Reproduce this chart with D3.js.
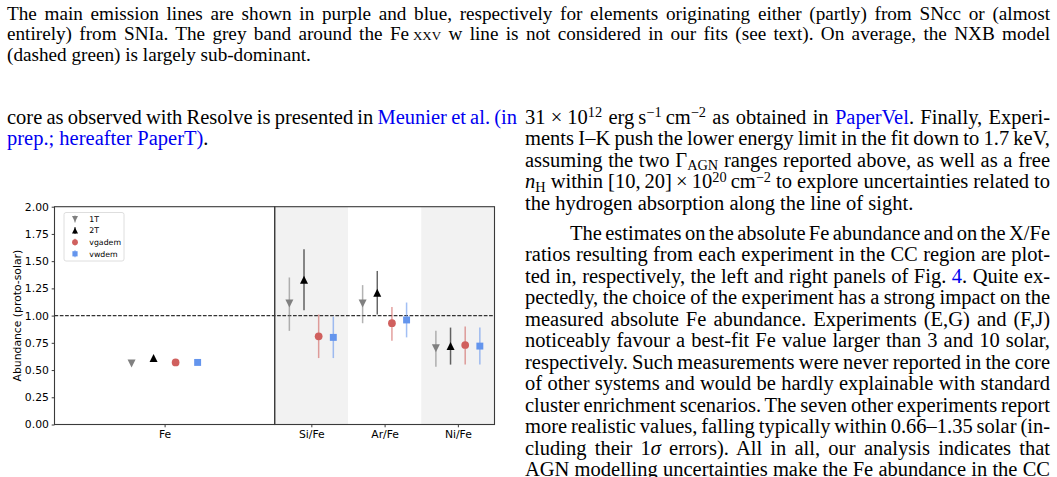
<!DOCTYPE html>
<html>
<head>
<meta charset="utf-8">
<script src="https://cdn.jsdelivr.net/npm/d3@7"></script>
<style>
	body { margin: 0; background: #fff; }
	#page { position: relative; width: 1057px; height: 477px; overflow: hidden;
		font-family: 'Liberation Serif', 'Times New Roman', serif; color: #000; }
	.line { position: absolute; white-space: nowrap; }
	.line .in { display: inline-block; white-space: nowrap; }
	.lnk { color: #0000f0; }
	sup, sub { font-size: 0.7em; position: relative; vertical-align: baseline; line-height: 0; }
	sup { top: -0.45em; }
	sub { top: 0.25em; }
	.sc { font-variant: small-caps; }
	#chart { position: absolute; left: 0; top: 0; }
</style>
</head>
<body>
<div id="page">
	<svg id="chart" width="1057" height="477"></svg>
</div>
<script>
// ---- data ----
const models = ['1T', '2T', 'vgadem', 'vwdem'];
const modelColors = ['#808080', '#000000', '#d0605e', '#6495ed'];
const modelShapes = ['down', 'up', 'circle', 'square'];

const feLabels = ['Fe'];
const feValues = [0.56, 0.61, 0.57, 0.57];
const feErrors = [0.01, 0.01, 0.01, 0.01];

const ratioLabels = ['Si/Fe', 'Ar/Fe', 'Ni/Fe'];
// one row per model, one column per ratio
const ratioValues = [
	[1.11, 1.11, 0.70],
	[1.33, 1.21, 0.72],
	[0.81, 0.93, 0.73],
	[0.80, 0.96, 0.72]
];
const ratioErrLow = [
	[0.25, 0.18, 0.17],
	[0.28, 0.20, 0.17],
	[0.20, 0.16, 0.18],
	[0.19, 0.16, 0.17]
];
const ratioErrHigh = [
	[0.24, 0.17, 0.16],
	[0.28, 0.20, 0.17],
	[0.20, 0.15, 0.17],
	[0.19, 0.16, 0.17]
];
const yTicks = [0, 0.25, 0.5, 0.75, 1, 1.25, 1.5, 1.75, 2];
const referenceLevel = 1;

// ---- surrounding page text ----
const captionLines = [
	'The main emission lines are shown in purple and blue, respectively for elements originating either (partly) from SNcc or (almost',
	'entirely) from SNIa. The grey band around the Fe\u2009<span class="sc">xxv</span> w line is not considered in our fits (see text). On average, the NXB model',
	'(dashed green) is largely sub-dominant.'
];
const leftLines = [
	'core as observed with Resolve is presented in <span class="lnk">Meunier et al. (in</span>',
	'<span class="lnk">prep.; hereafter PaperT)</span>.'
];
const rightLinesA = [
	'31\u2005×\u200510<sup>12</sup> erg\u2009s<sup>\u22121</sup>\u2009cm<sup>\u22122</sup> as obtained in <span class="lnk">PaperVel</span>. Finally, Experi-',
	'ments I–K push the lower energy limit in the fit down to 1.7\u2009keV,',
	'assuming the two Γ<sub>AGN</sub> ranges reported above, as well as a free',
	'<i>n</i><sub>H</sub> within [10,\u200920]\u2009×\u200910<sup>20</sup>\u2009cm<sup>\u22122</sup> to explore uncertainties related to',
	'the hydrogen absorption along the line of sight.'
];
const rightLinesB = [
	'The estimates on the absolute Fe abundance and on the X/Fe',
	'ratios resulting from each experiment in the CC region are plot-',
	'ted in, respectively, the left and right panels of Fig. <span class="lnk">4</span>. Quite ex-',
	'pectedly, the choice of the experiment has a strong impact on the',
	'measured absolute Fe abundance. Experiments (E,G) and (F,J)',
	'noticeably favour a best-fit Fe value larger than 3 and 10 solar,',
	'respectively. Such measurements were never reported in the core',
	'of other systems and would be hardly explainable with standard',
	'cluster enrichment scenarios. The seven other experiments report',
	'more realistic values, falling typically within 0.66–1.35 solar (in-',
	'cluding their 1<i>σ</i> errors). All in all, our analysis indicates that',
	'AGN modelling uncertainties make the Fe abundance in the CC'
];

const page = d3.select('#page');
const bodySize = 20.5;
const captionSize = 19.2;

// put one line of text with its baseline at y, optionally justified to width
const placeLine = (html, x, y, width, fontSize, lineHeight, justify) => {
	const top = y - ((lineHeight - 1.107 * fontSize) / 2 + 0.891 * fontSize);
	const div = page.append('div')
		.attr('class', 'line')
		.style('left', `${x}px`)
		.style('top', `${top}px`)
		.style('font-size', `${fontSize}px`)
		.style('line-height', `${lineHeight}px`);
	const inner = div.append('span')
		.attr('class', 'in')
		.html(html);
	if (justify) {
		const w = inner.node().getBoundingClientRect().width;
		const spaces = (inner.text().match(/ /g) || []).length;
		if (spaces > 0) inner.style('word-spacing', `${(width - w) / spaces}px`);
	}
};

captionLines.forEach((t, i) =>
	placeLine(t, 7, 20.5 + i * 20.7, 1043, captionSize, 20.7, i < captionLines.length - 1));
leftLines.forEach((t, i) =>
	placeLine(t, 7, 124.5 + i * 21.4, 510, bodySize, 21.4, i < leftLines.length - 1));
rightLinesA.forEach((t, i) =>
	placeLine(t, 525, 124.5 + i * 21.5, 525, bodySize, 21.5, i < rightLinesA.length - 1));
rightLinesB.forEach((t, i) =>
	placeLine(t, i === 0 ? 570 : 525, 240.5 + i * 21.5, i === 0 ? 480 : 525, bodySize, 21.5, true));

// ---- chart ----
let dimensions = {
	top: 206.7,
	bottom: 424.5,
	leftPanel: [54.5, 274.7],
	rightPanel: [274.7, 494.5]
};

const svg = d3.select('#chart');
const bounds = svg.append('g');

const yScale = d3.scaleLinear()
	.domain([0, 2])
	.range([dimensions.bottom, dimensions.top]);

const xFe = d3.scaleLinear()
	.domain([-0.5, feLabels.length - 0.5])
	.range(dimensions.leftPanel);

const xRatio = d3.scaleLinear()
	.domain([-0.5, ratioLabels.length - 0.5])
	.range(dimensions.rightPanel);

// grey bands behind every other ratio
bounds.append('g')
	.selectAll('rect')
	.data(ratioLabels.map((d, i) => i).filter(i => i % 2 === 0))
	.join('rect')
		.attr('x', i => xRatio(i - 0.5))
		.attr('width', i => xRatio(i + 0.5) - xRatio(i - 0.5))
		.attr('y', dimensions.top)
		.attr('height', dimensions.bottom - dimensions.top)
		.attr('fill', '#f2f2f2');

// dashed reference line across both panels
bounds.append('line')
	.attr('x1', dimensions.leftPanel[0])
	.attr('x2', dimensions.rightPanel[1])
	.attr('y1', yScale(referenceLevel))
	.attr('y2', yScale(referenceLevel))
	.attr('stroke', '#333')
	.attr('stroke-width', 1.1)
	.attr('stroke-dasharray', '3.7,1.6');

// marker shapes in matplotlib style (triangles as tall as wide)
const triangleUp = {
	draw(context, size) {
		const r = Math.sqrt(size) / 2;
		context.moveTo(0, -r);
		context.lineTo(r, r);
		context.lineTo(-r, r);
		context.closePath();
	}
};
const triangleDown = {
	draw(context, size) {
		const r = Math.sqrt(size) / 2;
		context.moveTo(0, r);
		context.lineTo(r, -r);
		context.lineTo(-r, -r);
		context.closePath();
	}
};
const symbolTypes = {
	up: [triangleUp, 64],
	down: [triangleDown, 64],
	circle: [d3.symbolCircle, 47],
	square: [d3.symbolSquare, 48]
};
const markerPath = (shape, scale = 1) => {
	const [type, size] = symbolTypes[shape];
	return d3.symbol().type(type).size(size * scale * scale)();
};

// build flat point lists from the arrays
const fePoints = models.map((m, k) => ({
	k, x: xFe(0 + (k - 1.5) * 0.1),
	v: feValues[k], lo: feErrors[k], hi: feErrors[k]
}));
const ratioPoints = [];
models.forEach((m, k) => {
	ratioLabels.forEach((r, j) => {
		ratioPoints.push({
			k, x: xRatio(j + (k - 1.5) * 0.2),
			v: ratioValues[k][j], lo: ratioErrLow[k][j], hi: ratioErrHigh[k][j]
		});
	});
});
const allPoints = fePoints.concat(ratioPoints);

bounds.append('g')
	.selectAll('line')
	.data(allPoints)
	.join('line')
		.attr('x1', d => d.x)
		.attr('x2', d => d.x)
		.attr('y1', d => yScale(d.v - d.lo))
		.attr('y2', d => yScale(d.v + d.hi))
		.attr('stroke', d => modelColors[d.k])
		.attr('stroke-opacity', 0.6)
		.attr('stroke-width', 1.5);

bounds.append('g')
	.selectAll('path')
	.data(allPoints)
	.join('path')
		.attr('transform', d => `translate(${d.x},${yScale(d.v)})`)
		.attr('d', d => markerPath(modelShapes[d.k]))
		.attr('fill', d => modelColors[d.k]);

// spines
[dimensions.leftPanel, dimensions.rightPanel].forEach(p => {
	bounds.append('rect')
		.attr('x', p[0])
		.attr('y', dimensions.top)
		.attr('width', p[1] - p[0])
		.attr('height', dimensions.bottom - dimensions.top)
		.attr('fill', 'none')
		.attr('stroke', '#3a3a3a')
		.attr('stroke-width', 1.1);
});

// axes
const axisFont = "'DejaVu Sans', sans-serif";

const yAxisGenerator = d3.axisLeft(yScale)
	.tickValues(yTicks)
	.tickFormat(d3.format('.2f'))
	.tickSize(2.8)
	.tickPadding(2.8);

const yAxis = bounds.append('g')
	.attr('transform', `translate(${dimensions.leftPanel[0]},0)`)
	.call(yAxisGenerator);

const xFeAxis = bounds.append('g')
	.attr('transform', `translate(0,${dimensions.bottom})`)
	.call(d3.axisBottom(xFe)
		.tickValues(feLabels.map((d, i) => i))
		.tickFormat(i => feLabels[i])
		.tickSize(2.8)
		.tickPadding(2.8));

const xRatioAxis = bounds.append('g')
	.attr('transform', `translate(0,${dimensions.bottom})`)
	.call(d3.axisBottom(xRatio)
		.tickValues(ratioLabels.map((d, i) => i))
		.tickFormat(i => ratioLabels[i])
		.tickSize(2.8)
		.tickPadding(2.8));

[yAxis, xFeAxis, xRatioAxis].forEach(a => {
	a.select('.domain').remove();
	a.selectAll('.tick line').attr('stroke', '#3a3a3a').attr('stroke-width', 1);
	a.selectAll('.tick text')
		.attr('fill', '#000')
		.style('font-family', axisFont)
		.style('font-size', '10.8px');
});

// y axis label
bounds.append('text')
	.attr('transform', `translate(20.5,${(dimensions.top + dimensions.bottom) / 2}) rotate(-90)`)
	.attr('text-anchor', 'middle')
	.attr('fill', '#000')
	.style('font-family', axisFont)
	.style('font-size', '10.8px')
	.text('Abundance (proto-solar)');

// legend
const legend = bounds.append('g')
	.attr('transform', 'translate(64,212.5)');

legend.append('rect')
	.attr('width', 60)
	.attr('height', 48.5)
	.attr('rx', 2)
	.attr('fill', '#fff')
	.attr('stroke', '#d6d6d6')
	.attr('stroke-width', 0.8);

const legendItems = legend.selectAll('g.item')
	.data(models)
	.join('g')
		.attr('class', 'item')
		.attr('transform', (d, i) => `translate(11,${6.5 + i * 11.6})`);

legendItems.append('line')
	.attr('y1', -3.5)
	.attr('y2', 3.5)
	.attr('stroke', (d, i) => modelColors[i])
	.attr('stroke-opacity', 0.6)
	.attr('stroke-width', 1.5);

legendItems.append('path')
	.attr('d', (d, i) => markerPath(modelShapes[i], 0.75))
	.attr('fill', (d, i) => modelColors[i]);

legendItems.append('text')
	.attr('x', 14.3)
	.attr('dy', '0.35em')
	.attr('fill', '#000')
	.style('font-family', axisFont)
	.style('font-size', '7.8px')
	.text(d => d);
</script>
</body>
</html>
